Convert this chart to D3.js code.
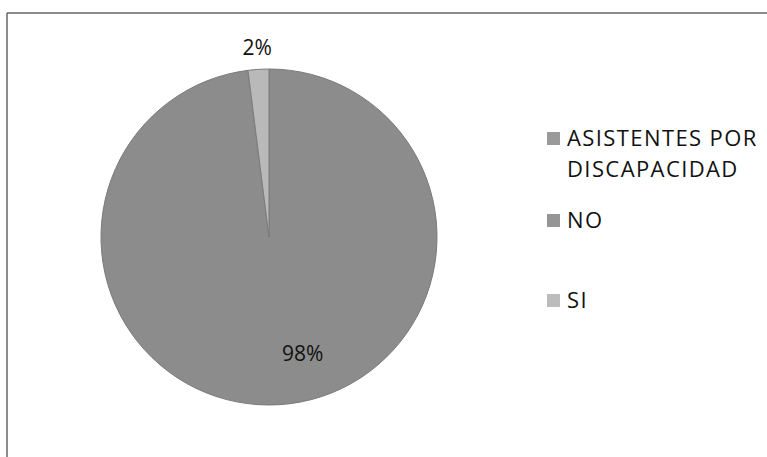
<!DOCTYPE html>
<html>
<head>
<meta charset="utf-8">
<script src="https://cdn.jsdelivr.net/npm/d3@7"></script>
<style>
  body { margin: 0; background: #fff; }
  svg text { font-family: "Open Sans", sans-serif; fill: #111; }
</style>
</head>
<body>
<svg width="767" height="457"></svg>
<script>
// data
var seriesName = "ASISTENTES POR DISCAPACIDAD";
var categories = ["NO", "SI"];
var values = [98, 2];
var colors = ["#8c8c8c", "#b9b9b9"];

var svg = d3.select("svg"),
    cx = 269, cy = 237, radius = 168;

// scanned frame: only top and left edges visible
svg.append("line").attr("x1", 7).attr("y1", 13).attr("x2", 767).attr("y2", 13)
    .attr("stroke", "#666").attr("stroke-width", 1.5);
svg.append("line").attr("x1", 7).attr("y1", 13).attr("x2", 7).attr("y2", 457)
    .attr("stroke", "#666").attr("stroke-width", 1.5);

var data = categories.map(function (c, i) { return {name: c, value: values[i]}; });

var pie = d3.pie().sort(null).value(function (d) { return d.value; });
var arc = d3.arc().innerRadius(0).outerRadius(radius);
var color = d3.scaleOrdinal().domain(categories).range(colors);

var g = svg.append("g").attr("transform", "translate(" + cx + "," + cy + ")");
var arcs = pie(data);

g.selectAll("path")
    .data(arcs)
    .enter().append("path")
    .attr("d", arc)
    .attr("fill", function (d) { return color(d.data.name); })
    .attr("stroke", "#7a7a7a")
    .attr("stroke-width", 1);

// percentage labels: big slice inside (nudged like excel's best fit), small slice outside
function labelPos(d) {
    var mid = (d.startAngle + d.endAngle) / 2;
    if (d.data.value > 10) {
        return d3.pointRadial(mid - 0.22, radius * 0.72);
    }
    return d3.pointRadial(mid, radius * 1.13);
}
g.selectAll("text.pct")
    .data(arcs)
    .enter().append("text")
    .attr("class", "pct")
    .attr("transform", function (d) { return "translate(" + labelPos(d) + ")"; })
    .attr("text-anchor", "middle")
    .attr("dy", "0.35em")
    .style("font-size", "21px")
    .text(function (d) { return d.data.value + "%"; });

// legend
var legendItems = [
    {lines: ["ASISTENTES POR", "DISCAPACIDAD"], fill: "#9a9a9a", y: 138},
    {lines: ["NO"], fill: "#959595", y: 220},
    {lines: ["SI"], fill: "#bcbcbc", y: 300}
];
var legend = svg.append("g").attr("transform", "translate(547,0)");
legendItems.forEach(function (item) {
    legend.append("rect")
        .attr("x", 0).attr("y", item.y - 6)
        .attr("width", 13).attr("height", 13)
        .attr("fill", item.fill);
    var t = legend.append("text")
        .attr("x", 20).attr("y", item.y)
        .style("font-size", "22px")
        .style("letter-spacing", "1.4px");
    item.lines.forEach(function (l, i) {
        t.append("tspan").attr("x", 20)
            .attr("dy", i === 0 ? "0.35em" : "31px")
            .text(l);
    });
});
</script>
</body>
</html>
